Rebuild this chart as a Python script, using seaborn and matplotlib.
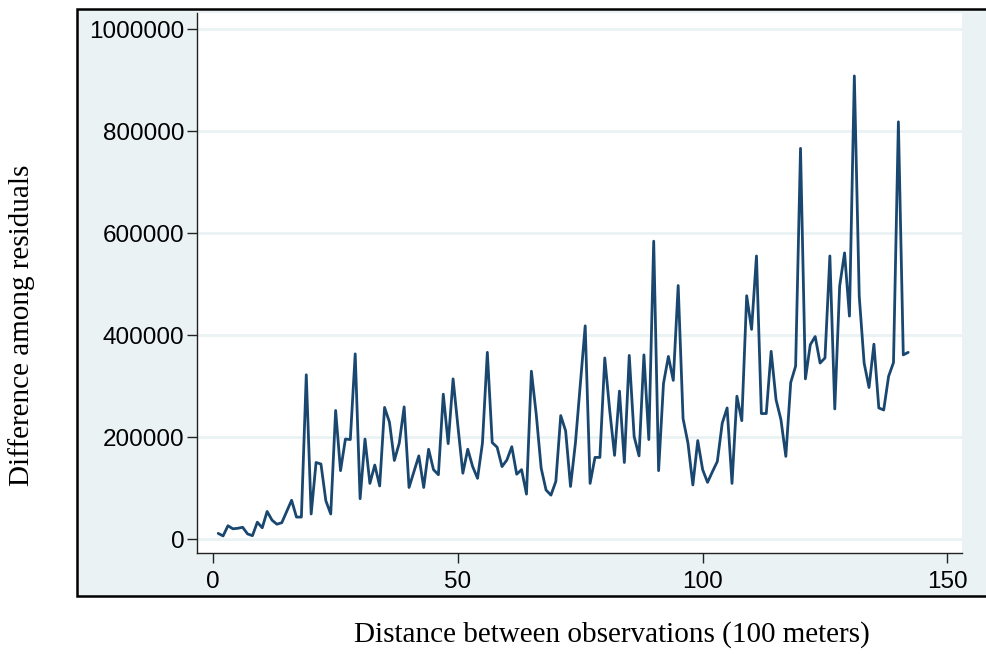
import matplotlib
matplotlib.use("Agg")
import matplotlib.pyplot as plt
import seaborn as sns
import pandas as pd
from matplotlib.patches import Rectangle

distance = list(range(1, 143))
difference = [
    11000, 6000, 26000, 20000, 21000, 23000, 10000, 6500, 33000, 22000,
    54000, 37000, 29000, 32000, 54000, 76000, 43000, 43000, 322000, 49000,
    150000, 147000, 75000, 49000, 252000, 134000, 196000, 195000, 363000, 79000,
    196000, 109000, 145000, 104000, 258000, 229000, 154000, 188000, 259000, 101000,
    132000, 163000, 101000, 176000, 136000, 126000, 284000, 187000, 314000, 220000,
    129000, 176000, 142000, 119000, 188000, 366000, 189000, 180000, 142000, 155000,
    181000, 127000, 136000, 88000, 329000, 244000, 139000, 96000, 86000, 113000,
    242000, 212000, 103000, 188000, 303000, 418000, 109000, 160000, 160000, 355000,
    253000, 164000, 290000, 150000, 360000, 201000, 163000, 361000, 195000, 584000,
    134000, 305000, 358000, 311000, 497000, 236000, 188000, 106000, 193000, 136000,
    111000, 132000, 152000, 227000, 257000, 109000, 280000, 232000, 477000, 411000,
    555000, 246000, 246000, 368000, 273000, 234000, 162000, 307000, 339000, 766000,
    314000, 381000, 397000, 345000, 355000, 555000, 255000, 496000, 561000, 437000,
    908000, 476000, 345000, 297000, 382000, 257000, 253000, 319000, 346000, 818000,
    361000, 366000,
]
x_ticks = [0, 50, 100, 150]
y_ticks = [0, 200000, 400000, 600000, 800000, 1000000]
y_tick_labels = ["0", "200000", "400000", "600000", "800000", "1000000"]
x_label = "Distance between observations (100 meters)"
y_label = "Difference among residuals"

df = pd.DataFrame({"distance": distance, "difference": difference})

sns.set_theme(style="white")
plt.rcParams["font.family"] = ["Liberation Sans", "DejaVu Sans"]

W, H = 987, 654
fig = plt.figure(figsize=(W / 100, H / 100), dpi=100)
fig.patch.set_facecolor("white")

bg = "#eaf2f3"
# outer graph region box
fig.patches.append(Rectangle((77 / W, 1 - 596 / H), 1.2, (596 - 9) / H,
                             transform=fig.transFigure, facecolor=bg,
                             edgecolor="black", linewidth=1.8, zorder=0))

ax = fig.add_axes([197 / W, 1 - 553 / H, (962 - 197) / W, (553 - 13) / H])
ax.set_facecolor("white")
ax.set_zorder(2)

for yt in y_ticks:
    ax.axhline(yt, color=bg, linewidth=2.0, zorder=0)

sns.lineplot(data=df, x="distance", y="difference", ax=ax, color="#1a476f",
             linewidth=2.0, estimator=None, zorder=3)

ax.set_xlim(-3.33, 153.0)
ax.set_ylim(-27450, 1031400)
ax.set_xticks(x_ticks)
ax.set_xticklabels([str(t) for t in x_ticks])
ax.set_yticks(y_ticks)
ax.set_yticklabels(y_tick_labels)
ax.set_xlabel("")
ax.set_ylabel("")

for s in ["top", "right"]:
    ax.spines[s].set_visible(False)
for s in ["left", "bottom"]:
    ax.spines[s].set_color("#222222")
    ax.spines[s].set_linewidth(1.0)

ax.tick_params(axis="y", which="major", length=7, width=1, color="#222222",
               pad=2, labelsize=17.5, labelcolor="black", left=True)
ax.tick_params(axis="x", which="major", length=7, width=1, color="#222222",
               pad=6, labelsize=17.5, labelcolor="black", bottom=True)
ax.grid(False)

fig.text(612 / W, 1 - 635 / H, x_label, ha="center", va="center", color="black",
         fontsize=21, family=["Liberation Serif", "DejaVu Serif"])
fig.text(22 / W, 1 - 325 / H, y_label, ha="center", va="center", color="black",
         rotation=90, fontsize=21, family=["Liberation Serif", "DejaVu Serif"])

fig.savefig("out.png", dpi=100, facecolor="white")
